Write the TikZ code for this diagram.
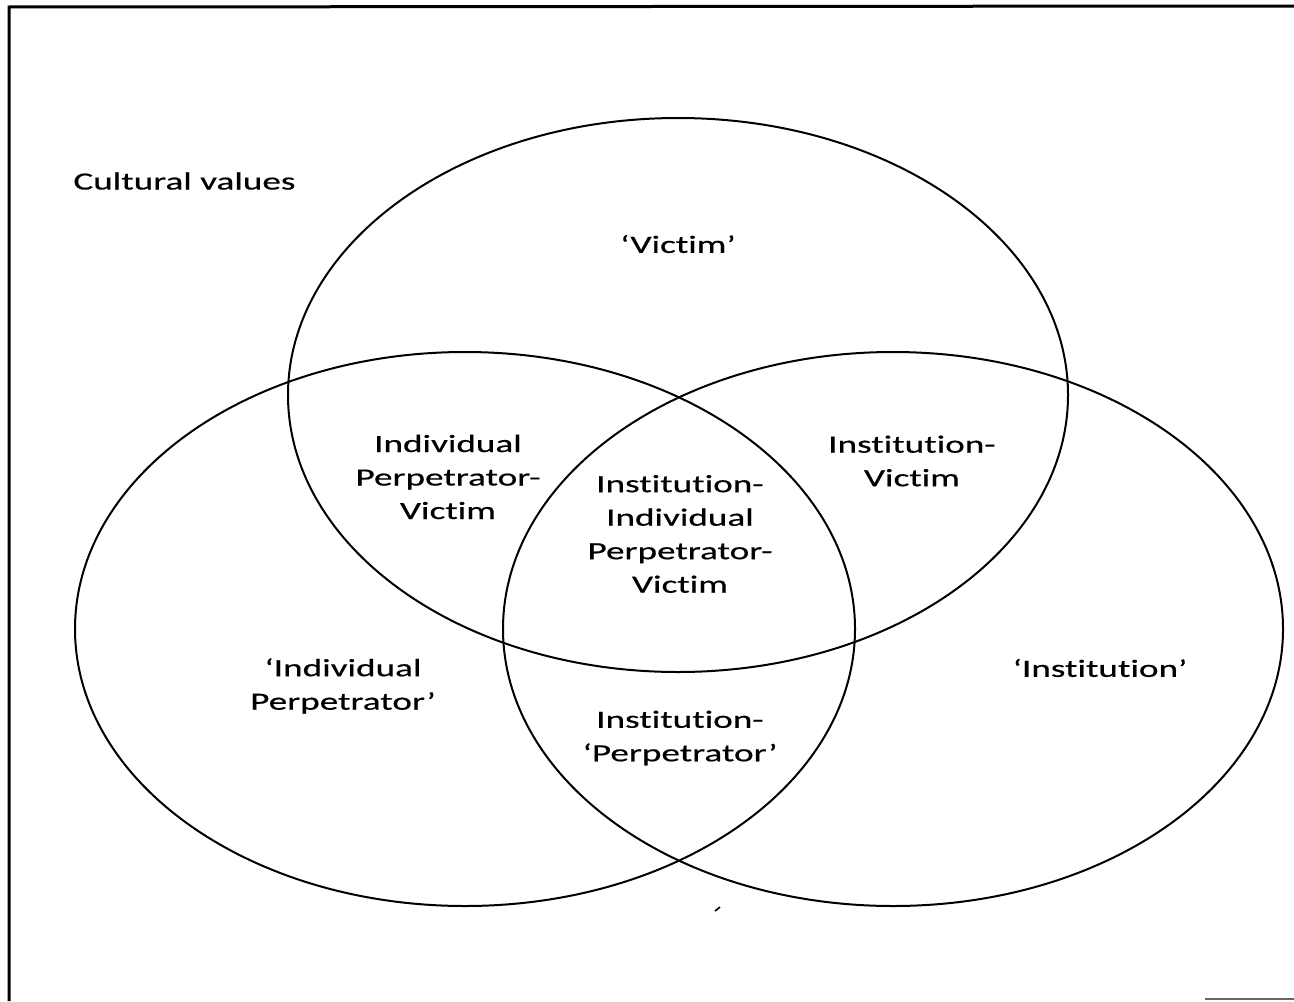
\documentclass[tikz,border=0pt]{standalone}
\usepackage{fontspec}
\setmainfont{Carlito}[FakeStretch=1.5,FakeBold=0.5,Ligatures=NoCommon]
\begin{document}
\begin{tikzpicture}[x=0.5pt,y=-0.5pt,
  set/.style={draw=black,line width=1pt},
  lbl/.style={align=center,inner sep=0pt,font=\fontsize{12.4}{16.75}\selectfont},
  frame/.style={draw=black,line width=1.5pt}]
\useasboundingbox (0,0) rectangle (1294,1001);
% frame
\coordinate (tl) at (9,7);
\coordinate (tr) at (1294,6);
\coordinate (bl) at (9,1001);
\coordinate (br1) at (1205,999);
\coordinate (br2) at (1294,999);
\draw[frame] (bl) -- (tl) -- (tr);
\draw[draw=black!60,line width=1pt] (br1) -- (br2);
% ellipses
\draw[set] (678,395) ellipse [x radius=390, y radius=277];
\draw[set] (465,629) ellipse [x radius=390, y radius=277];
\draw[set] (893,629) ellipse [x radius=390, y radius=277];
% stray mark
\coordinate (m1) at (715,911);
\coordinate (m2) at (720,907);
\draw[line width=0.8pt] (m1) -- (m2);
% labels
\node[lbl,anchor=west] (cult) at (73,181) {Cultural values};
\node[lbl] (vic) at (678,244) {‘Victim’};
\node[lbl] (ipv) at (448,477) {Individual\\Perpetrator-\\Victim};
\node[lbl] (iv) at (912,461) {Institution-\\Victim};
\node[lbl] (all) at (680,534) {Institution-\\Individual\\Perpetrator-\\Victim};
\node[lbl] (ip) at (343,686) {‘Individual\\Perpetrator’};
\node[lbl] (inp) at (680,738) {Institution-\\‘Perpetrator’};
\node[lbl] (ins) at (1100,668) {‘Institution’};
\end{tikzpicture}
\end{document}
